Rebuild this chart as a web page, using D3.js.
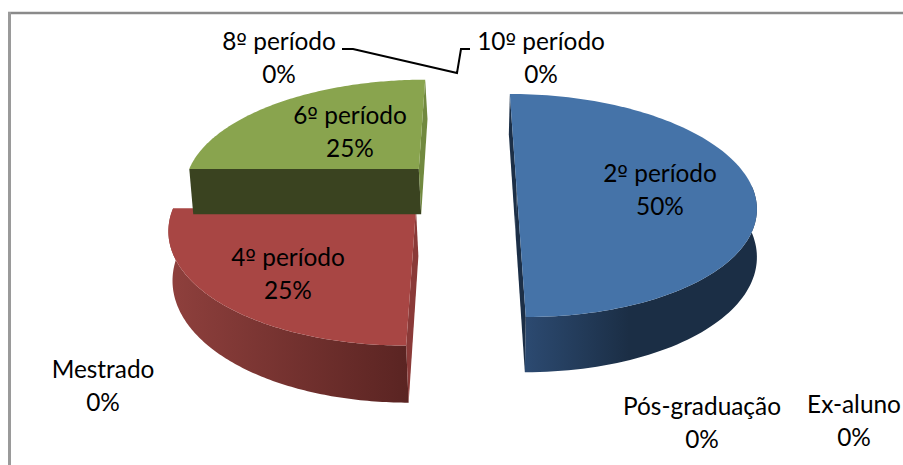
<!DOCTYPE html>
<html>
<head>
<meta charset="utf-8">
<script src="https://cdnjs.cloudflare.com/ajax/libs/d3/7.8.5/d3.min.js"></script>
<style>
  html, body { margin: 0; padding: 0; background: #fff; }
  svg { display: block; }
  text { font-family: Lato, "Open Sans", sans-serif; font-size: 24.4px; fill: #000; text-anchor: middle; }
  tspan.ord { font-family: "DejaVu Sans", sans-serif; font-size: 22.5px; }
</style>
</head>
<body>
<svg id="svg" width="903" height="465"></svg>
<script>
// Values
const categories = ['2º período', '4º período', '6º período', '8º período', '10º período', 'Mestrado', 'Pós-graduação', 'Ex-aluno'];
const percents = [50, 25, 25, 0, 0, 0, 0, 0];

// slice colours: top, wall, radial wall (only the three visible slices)
const topColors = ['#4573a8', '#a84644', '#89a44e'];
const wallFrom = ['#2c4a71', '#8f403d', '#3a4320'];
const wallTo = ['#1b2e45', '#5a2422', '#3a4320'];
const sideColors = ['#1c2f47', '#8a3a38', '#71893f'];

// label centres, one per category
const labelX = [660, 288, 350, 279, 541, 103, 702, 854];
const labelY = [174, 258, 116, 42, 42, 370, 407, 405];

const svg = d3.select('#svg');
const defs = svg.append('defs');

// the frame: only top and left edges are in the picture
svg.append('line').attr('x1', 8).attr('x2', 903).attr('y1', 13).attr('y2', 13).attr('stroke', '#8a8a8a').attr('stroke-width', 2.4);
svg.append('line').attr('x1', 9.5).attr('x2', 9.5).attr('y1', 12).attr('y2', 465).attr('stroke', '#9a9a9a').attr('stroke-width', 3);

// perspective of the pie plane: u to the right, v to the viewer, z down the thickness
const Xc = 467, Yc = 188, B = 236, A = 108.8, K = 0.157, H = 46.5;
// the thickness leans sideways, pivoting on the right end of the pie
const LEAN_X = 757, sliceLean = [-0.004, 0.007, 0.007];
const EXPL_U = 0.21, EXPL_V = 0.18;
function project(u, v, z, lean) {
  const s = 1 / (1 - K * v);
  const x = Xc + B * u * s;
  return [x + (LEAN_X - x) * lean * z, Yc + A * v * s + H * z * s];
}

const pie = d3.pie().sort(null).value(d => d).startAngle(0).endAngle(2 * Math.PI);
const arcs = pie(percents);
const line = d3.line();

const gSlices = svg.append('g');
arcs.forEach((a, i) => {
  if (a.value === 0) return;
  const mid = (a.startAngle + a.endAngle) / 2;
  // explode along the quadrant the slice lies in
  const ou = Math.sign(Math.round(Math.sin(mid) * 100)) * EXPL_U;
  const ov = -Math.sign(Math.round(Math.cos(mid) * 100)) * EXPL_V;
  const at = (ang, r, z) => project(ou + r * Math.sin(ang), ov - r * Math.cos(ang), z, sliceLean[i]);
  const angles = d3.range(0, 121).map(k => a.startAngle + (a.endAngle - a.startAngle) * k / 120);

  const g = gSlices.append('g');
  const gradId = 'wall' + i;
  const grad = defs.append('linearGradient').attr('id', gradId).attr('x1', 0).attr('x2', 1).attr('y1', 0).attr('y2', 0);
  grad.append('stop').attr('offset', 0).attr('stop-color', wallFrom[i]);
  grad.append('stop').attr('offset', i === 0 ? 0.45 : 1).attr('stop-color', wallTo[i]);

  // only the front half of the rim shows below the top face
  const front = angles.filter(t => -Math.cos(t) + ov >= -0.05);
  const wall = front.map(t => at(t, 1, 0)).concat(front.slice().reverse().map(t => at(t, 1, 1)));
  if (front.length) g.append('path').attr('d', line(wall) + 'Z').attr('fill', `url(#${gradId})`);

  [a.startAngle, a.endAngle].forEach(t => {
    const across = Math.abs(Math.sin(t)) > 0.5;
    // a wall running across only faces the viewer on the back slices
    if (across && ov > 0) return;
    const q = [at(t, 0, 0), at(t, 1, 0), at(t, 1, 1), at(t, 0, 1)];
    g.append('path').attr('d', line(q) + 'Z').attr('fill', across ? wallTo[i] : sideColors[i]);
  });

  const top = [at(0, 0, 0)].concat(angles.map(t => at(t, 1, 0)));
  g.append('path').attr('d', line(top) + 'Z').attr('fill', topColors[i]);
});

// leader between the 8º and 10º período labels
const leader = [[342, 49], [353, 49], [457, 73], [461, 49], [470, 49]];
svg.append('path').attr('d', line(leader)).attr('fill', 'none').attr('stroke', '#000').attr('stroke-width', 2);

const gLabels = svg.append('g');
categories.forEach((c, i) => {
  const t = gLabels.append('g').attr('transform', `translate(${labelX[i]},${labelY[i]})`);
  const name = t.append('text').attr('y', 8);
  // the ordinal sign comes from a face that underlines it
  c.split(/(º)/).forEach(part => {
    if (part) name.append('tspan').classed('ord', part === 'º').text(part);
  });
  t.append('text').attr('y', 41).text(percents[i] + '%');
});
</script>
</body>
</html>
